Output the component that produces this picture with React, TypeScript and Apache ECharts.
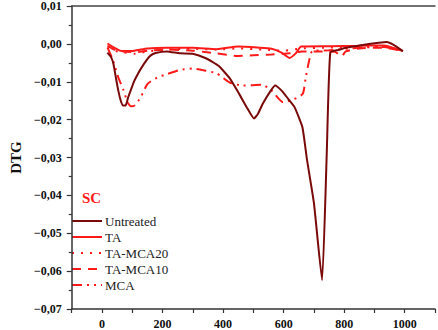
import React, { useEffect, useRef } from "react";
import * as echarts from "echarts";

const seriesNames = ["Untreated", "TA", "TA-MCA20", "TA-MCA10", "MCA"];

const untreated: [number, number][] = [
  [18, -0.0023], [30, -0.0035], [38, -0.0054], [46, -0.009], [54, -0.0124], [62, -0.015], [70, -0.0163], [78, -0.0163],
  [86, -0.0142], [97, -0.0118], [107, -0.0097], [118, -0.008], [128, -0.0066], [146, -0.0044],
  [160, -0.0031], [177, -0.0024], [214, -0.002], [257, -0.0025], [300, -0.0026], [343, -0.0038],
  [385, -0.0058], [421, -0.009], [453, -0.0132], [480, -0.017], [502, -0.0197], [515, -0.0185],
  [531, -0.0158], [557, -0.0124], [572, -0.011], [594, -0.0124], [615, -0.0145], [636, -0.0167], [662, -0.022],
  [677, -0.0305], [700, -0.042], [727, -0.0624], [742, -0.03], [754, -0.0023], [780, -0.0016], [806, -0.001],
  [850, -0.0004], [914, 0.0003], [941, 0.0005], [962, -0.0002], [994, -0.0019],
];

const ta: [number, number][] = [
  [18, 0.0001], [30, -0.0005], [45, -0.0012], [64, -0.0019], [107, -0.0018], [150, -0.0012],
  [214, -0.001], [300, -0.001], [379, -0.0014], [450, -0.0007], [517, -0.001], [560, -0.0013],
  [593, -0.0023], [620, -0.0037], [640, -0.0025], [658, -0.0007], [750, -0.0006], [850, -0.0005],
  [930, -0.0004], [994, -0.0019],
];

const taMca20: [number, number][] = [
  [18, -0.001], [40, -0.0018], [70, -0.0022], [110, -0.0026], [150, -0.002], [214, -0.0015],
  [300, -0.0013], [379, -0.0015], [450, -0.0012], [530, -0.0015], [600, -0.0018], [660, -0.0012],
  [750, -0.001], [850, -0.0008], [930, -0.0006], [994, -0.0019],
];

const taMca10: [number, number][] = [
  [18, -0.0005], [40, -0.0015], [70, -0.002], [110, -0.0022], [150, -0.0018], [214, -0.0015],
  [300, -0.0018], [379, -0.0025], [450, -0.0032], [500, -0.003], [560, -0.0028], [620, -0.0025],
  [660, -0.002], [730, -0.002], [770, -0.0021], [791, -0.0034], [805, -0.002], [850, -0.0012],
  [930, -0.001], [994, -0.0019],
];

const mca: [number, number][] = [
  [18, -0.001], [35, -0.004], [54, -0.0089], [70, -0.012], [85, -0.0155], [96, -0.0165],
  [107, -0.0163], [128, -0.0141], [150, -0.0106], [182, -0.0089], [214, -0.008], [257, -0.0069],
  [300, -0.0065], [343, -0.0071], [379, -0.0078], [422, -0.0102], [465, -0.011], [529, -0.0108],
  [561, -0.0124], [598, -0.0154], [631, -0.0147], [663, -0.0132], [673, -0.0089], [684, -0.0045],
  [695, -0.0019], [750, -0.0017], [850, -0.001], [930, -0.0008], [994, -0.0019],
];

const xTickLabels = ["0", "200", "400", "600", "800", "1000"];

const FONT = "Liberation Serif";
const DARK = "#7a0a0a";
const RED = "#ff1a1a";

export default function App() {
  const ref = useRef<HTMLDivElement>(null);
  useEffect(() => {
    if (!ref.current) return;
    const chart = echarts.init(ref.current, null, { renderer: "svg" });
    const datasets = [untreated, ta, taMca20, taMca10, mca];
    const styles: any[] = [
      { color: DARK, width: 2, type: "solid", dash: null },
      { color: RED, width: 2, type: "solid", dash: null },
      { color: RED, width: 2, type: [2, 7], dash: [2, 7] },
      { color: RED, width: 2, type: [9, 7], dash: [9, 7] },
      { color: RED, width: 2, type: [10, 5, 2, 5, 2, 5], dash: [10, 5, 2, 5, 2, 5] },
    ];
    const rowY = [221, 237, 253, 269, 285];
    const legendGraphics: any[] = [];
    seriesNames.forEach((name, i) => {
      legendGraphics.push({
        type: "line",
        shape: { x1: 72, y1: rowY[i], x2: 102, y2: rowY[i] },
        style: {
          stroke: styles[i].color,
          lineWidth: 2,
          lineDash: styles[i].dash || undefined,
        },
      });
      legendGraphics.push({
        type: "text",
        x: 105,
        y: rowY[i],
        style: {
          text: name,
          fontFamily: FONT,
          fontSize: 13,
          fill: "#222",
          verticalAlign: "middle",
          align: "left",
        },
      });
    });
    legendGraphics.push({
      type: "text",
      x: 82,
      y: 205,
      style: {
        text: "SC",
        fontFamily: FONT,
        fontWeight: "bold",
        fontSize: 15,
        fill: "#ff1a1a",
        verticalAlign: "bottom",
        align: "left",
      },
    });
    chart.setOption({
      animation: false,
      grid: { left: 69, top: 5, width: 373, height: 306, containLabel: false },
      graphic: legendGraphics,
      xAxis: [
        {
          type: "value",
          min: -100,
          max: 1100,
          interval: 100,
          position: "bottom",
          axisLine: { show: true, onZero: false, lineStyle: { color: "#333", width: 1.5 } },
          axisTick: { show: true, length: 4, lineStyle: { color: "#333", width: 1.2 } },
          splitLine: { show: false },
          axisLabel: {
            margin: 9,
            fontFamily: FONT,
            fontWeight: "bold",
            fontSize: 12,
            color: "#111",
            formatter: (v: number) => {
              const s = String(Math.round(v));
              return xTickLabels.includes(s) ? s : "";
            },
          },
        },
        {
          type: "value",
          min: -100,
          max: 1100,
          position: "top",
          axisLine: { show: true, onZero: false, lineStyle: { color: "#444", width: 1.5 } },
          axisTick: { show: false },
          axisLabel: { show: false },
          splitLine: { show: false },
        },
      ],
      yAxis: {
        type: "value",
        min: -0.07,
        max: 0.01,
        interval: 0.01,
        name: "DTG",
        nameLocation: "middle",
        nameRotate: 90,
        nameGap: 46,
        nameTextStyle: { fontFamily: FONT, fontWeight: "bold", fontSize: 15, color: "#111" },
        axisLine: { show: true, onZero: false, lineStyle: { color: "#333", width: 1.5 } },
        axisTick: { show: true, length: 5, lineStyle: { color: "#333", width: 1.2 } },
        minorTick: { show: true, splitNumber: 2, length: 3, lineStyle: { color: "#333", width: 1.2 } },
        splitLine: { show: false },
        axisLabel: {
          margin: 10,
          fontFamily: FONT,
          fontWeight: "bold",
          fontSize: 12,
          color: "#111",
          formatter: (v: number) => {
            const r = Math.round(v * 100) / 100;
            const s = Math.abs(r).toFixed(2).replace(".", ",");
            return r < 0 ? "\u2212" + s : s;
          },
        },
      },
      series: seriesNames.map((name, i) => ({
        name,
        type: "line",
        data: datasets[i],
        showSymbol: false,
        symbol: "none",
        smooth: i === 0 ? 0.15 : 0.2,
        lineStyle: { color: styles[i].color, width: styles[i].width, type: styles[i].type },
        itemStyle: { color: styles[i].color },
        z: i === 0 ? 3 : 2,
      })),
    });
    return () => chart.dispose();
  }, []);
  return (
    <div
      ref={ref}
      style={{ position: "fixed", left: 0, top: 0, width: 438, height: 330, background: "#fff" }}
    />
  );
}
